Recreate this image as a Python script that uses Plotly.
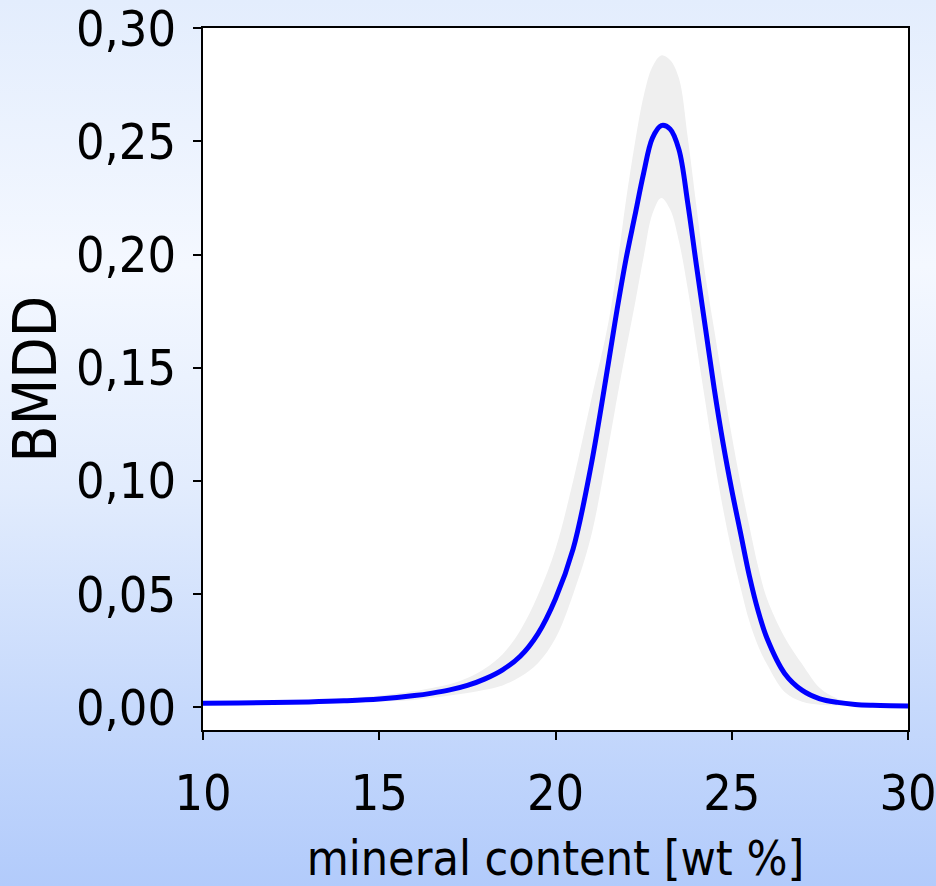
import base64
import plotly.graph_objects as go

# ---- data ----
x_vals = [10, 11, 12, 13, 14, 15, 16, 16.5, 17, 17.5, 18, 18.5, 19, 19.5, 20,
          20.5, 21, 21.5, 21.75, 22, 22.25, 22.5, 22.75, 23, 23.25, 23.5, 23.75,
          24, 24.25, 24.5, 24.75, 25, 25.25, 25.5, 25.75, 26, 26.5, 27, 27.5,
          28, 28.5, 29, 29.5, 30]

bmdd_mean = [0.0018, 0.0019, 0.0021, 0.0024, 0.0029, 0.0037, 0.0052, 0.0063, 0.0077,
             0.0097, 0.0126, 0.0166, 0.0226, 0.0325, 0.0480, 0.0700, 0.1060, 0.1520,
             0.1760, 0.1980, 0.2170, 0.2360, 0.2515, 0.2570, 0.2555, 0.2465, 0.2230,
             0.1950, 0.1680, 0.1410, 0.1170, 0.0960, 0.0770, 0.0580, 0.0425, 0.0305,
             0.0150, 0.0075, 0.0038, 0.0022, 0.0013, 0.0009, 0.0007, 0.0006]

bmdd_upper = [0.0021, 0.0023, 0.0026, 0.0031, 0.0039, 0.0052, 0.0072, 0.0086, 0.0102,
              0.0130, 0.0172, 0.0235, 0.0340, 0.0495, 0.0700, 0.1000, 0.1350, 0.1700,
              0.1950, 0.2240, 0.2490, 0.2700, 0.2830, 0.2880, 0.2860, 0.2780, 0.2520,
              0.2210, 0.1910, 0.1670, 0.1430, 0.1200, 0.0990, 0.0800, 0.0620, 0.0480,
              0.0310, 0.0190, 0.0085, 0.0038, 0.0018, 0.0010, 0.0008, 0.0007]

bmdd_lower = [0.0015, 0.0016, 0.0017, 0.0019, 0.0022, 0.0026, 0.0033, 0.0042, 0.0052,
              0.0063, 0.0078, 0.0097, 0.0135, 0.0195, 0.0305, 0.0500, 0.0750, 0.1150,
              0.1370, 0.1580, 0.1780, 0.1990, 0.2180, 0.2250, 0.2200, 0.2060, 0.1850,
              0.1600, 0.1350, 0.1100, 0.0880, 0.0690, 0.0530, 0.0380, 0.0270, 0.0190,
              0.0068, 0.0025, 0.0012, 0.0008, 0.0006, 0.0005, 0.0005, 0.0005]

y_tick_vals = [0.0, 0.05, 0.10, 0.15, 0.20, 0.25, 0.30]
x_tick_vals = [10, 15, 20, 25, 30]

FONT = "DejaVu Sans Condensed, DejaVu Sans, sans-serif"

fig = go.Figure()

# grey min/max envelope
fig.add_trace(go.Scatter(
    x=x_vals + x_vals[::-1],
    y=bmdd_upper + bmdd_lower[::-1],
    fill="toself", fillcolor="#efefef",
    line=dict(width=0, color="#efefef", shape="spline", smoothing=1.0),
    mode="lines", hoverinfo="skip", showlegend=False,
))

# mean BMDD curve
fig.add_trace(go.Scatter(
    x=x_vals, y=bmdd_mean, mode="lines",
    line=dict(color="#0000ff", width=5, shape="spline", smoothing=1.0),
    showlegend=False,
))

# background gradient (whole page) as an svg image
svg = (
    "<svg xmlns='http://www.w3.org/2000/svg' width='936' height='886' "
    "preserveAspectRatio='none'><defs><linearGradient id='g' x1='0' y1='0' x2='0' y2='1'>"
    "<stop offset='0' stop-color='#e3edfd'/>"
    "<stop offset='0.30' stop-color='#f4f8ff'/>"
    "<stop offset='0.55' stop-color='#e2ecfd'/>"
    "<stop offset='0.80' stop-color='#c6d9fc'/>"
    "<stop offset='1' stop-color='#b2cbfb'/>"
    "</linearGradient></defs><rect width='936' height='886' fill='url(#g)'/></svg>"
)
uri = "data:image/svg+xml;base64," + base64.b64encode(svg.encode()).decode()

W, H = 936, 886
ML, MR, MT, MB = 203, 28, 28, 156
pw, ph = W - ML - MR, H - MT - MB

fig.add_layout_image(dict(
    source=uri, xref="paper", yref="paper",
    x=-ML / pw, y=1 + MT / ph, sizex=W / pw, sizey=H / ph,
    xanchor="left", yanchor="top", sizing="stretch", layer="below",
))
fig.add_shape(type="rect", xref="paper", yref="paper", x0=0, x1=1, y0=0, y1=1,
              fillcolor="white", line=dict(width=0), layer="below")

fig.update_layout(
    width=W, height=H,
    margin=dict(l=ML, r=MR, t=MT, b=MB, pad=0, autoexpand=False),
    paper_bgcolor="#dfeafd", plot_bgcolor="white",
    separators=", ",
    font=dict(family=FONT, color="black", size=50),
)

fig.update_xaxes(
    range=[10, 30], tickvals=x_tick_vals, automargin=False,
    showline=True, linecolor="black", linewidth=2, mirror=True,
    ticks="outside", ticklen=8, tickwidth=2, tickcolor="black",
    showgrid=False, zeroline=False,
    tickfont=dict(family=FONT, size=50, color="black"),
    ticklabelstandoff=10, ticklabeloverflow="allow",
    title=dict(text="mineral content [wt %]", font=dict(family=FONT, size=48, color="black"),
               standoff=22),
)
fig.update_yaxes(
    range=[-0.01, 0.3001], tickvals=y_tick_vals, tickformat=".2f", automargin=False,
    showline=True, linecolor="black", linewidth=2, mirror=True,
    ticks="outside", ticklen=8, tickwidth=2, tickcolor="black",
    showgrid=False, zeroline=False,
    tickfont=dict(family=FONT, size=50, color="black"),
    ticklabelstandoff=7, ticklabeloverflow="allow",
    title=dict(text="BMDD", font=dict(family=FONT, size=60, color="black"), standoff=8),
)

fig.write_html("out.html", config={"displayModeBar": False},
               post_script="document.body.style.margin='0px';")
